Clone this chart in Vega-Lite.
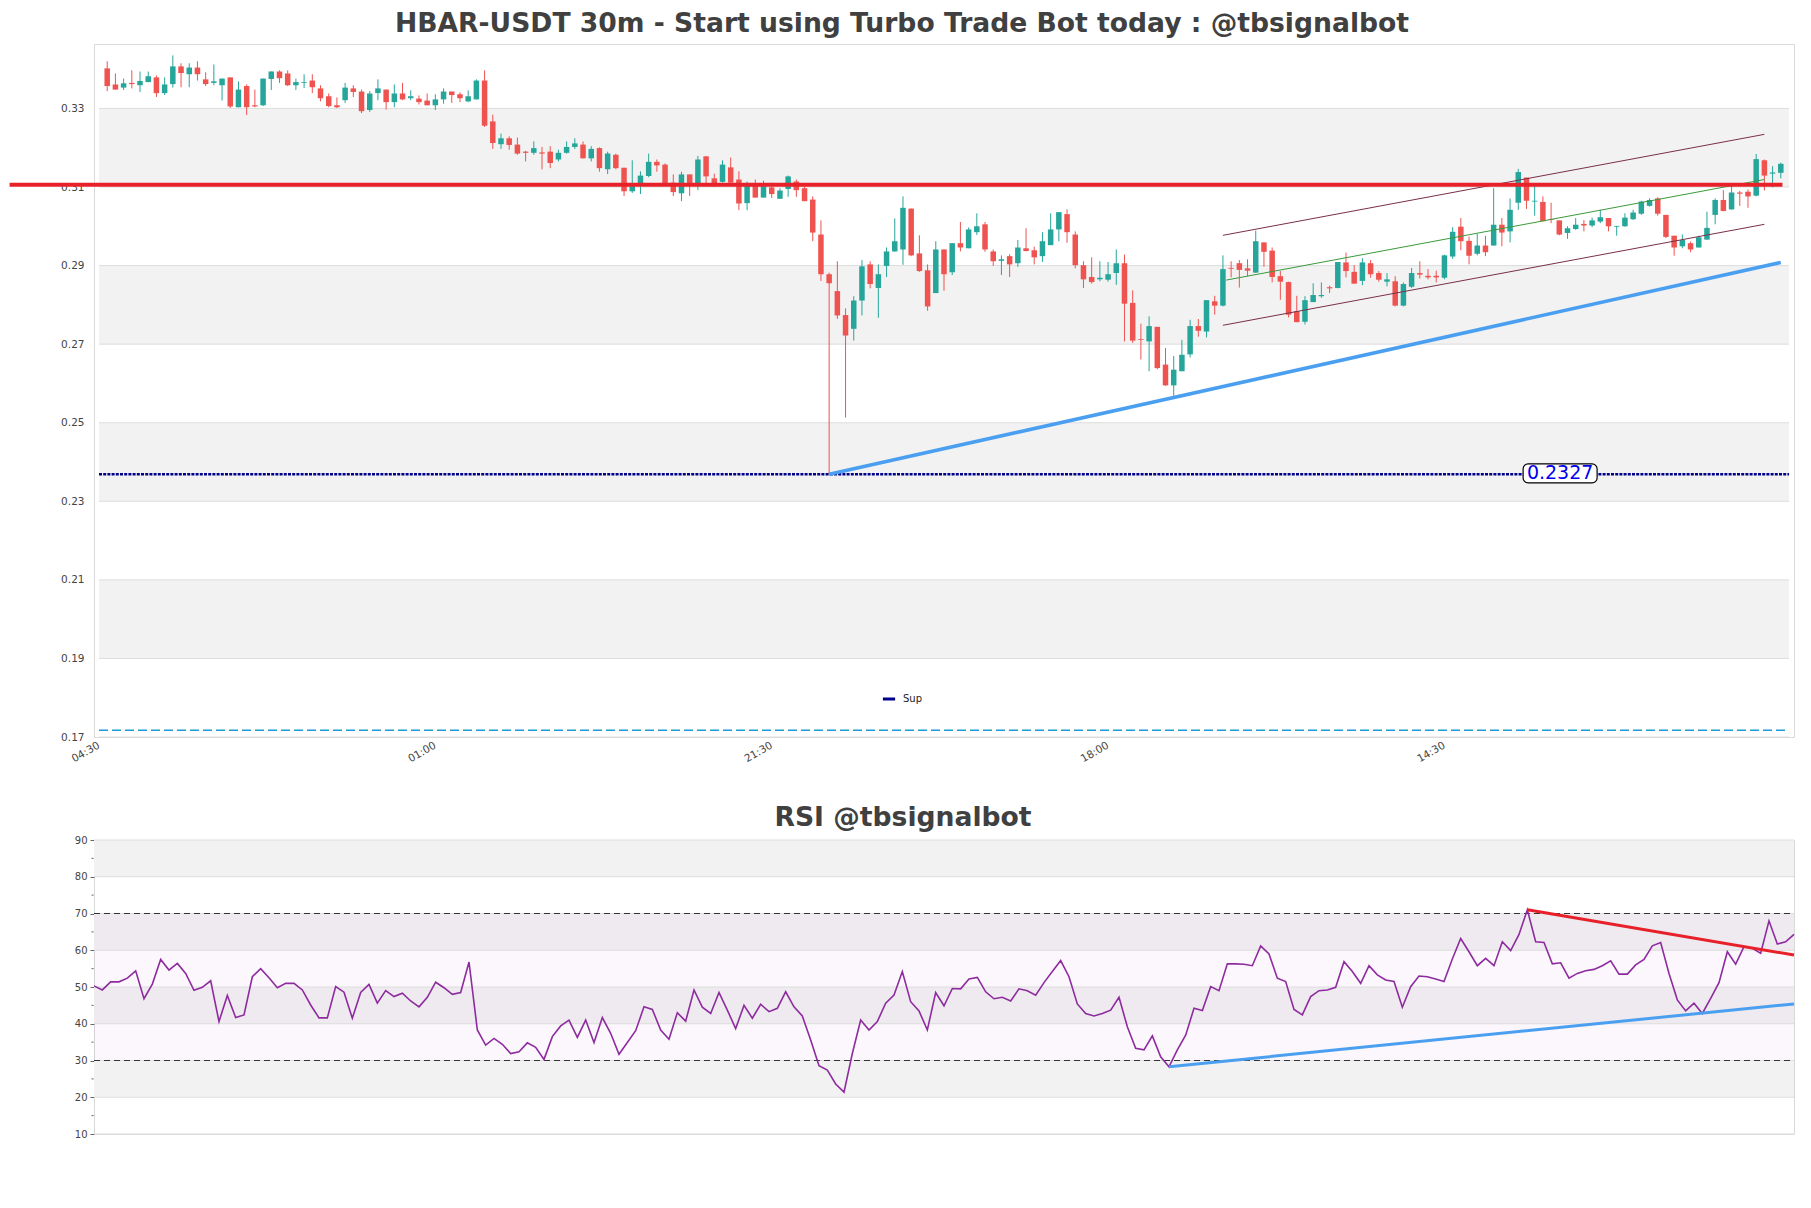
{
"$schema": "https://vega.github.io/schema/vega-lite/v6.json",
"padding": {"left": 7, "top": 10, "right": 14, "bottom": 10},
"background": "white",
"bounds": "flush",
"spacing": 103,
"config": {"font": "DejaVu Sans", "view": {"stroke": "#d9d9d9", "strokeWidth": 1}},
"resolve": {"scale": {"x": "independent", "y": "independent", "stroke": "independent"}},
"datasets": {
"pbands": [{"y0":0.31,"y1":0.33},{"y0":0.27,"y1":0.29},{"y0":0.23,"y1":0.25},{"y0":0.19,"y1":0.21}],
"pgrid": [{"v":0.17},{"v":0.19},{"v":0.21},{"v":0.23},{"v":0.25},{"v":0.27},{"v":0.29},{"v":0.31},{"v":0.33}],
"psegs": [
{"k":"up","i1":136,"v1":0.2977,"i2":202,"v2":0.3234},
{"k":"lo","i1":136,"v1":0.2748,"i2":202,"v2":0.3005},
{"k":"mid","i1":136.4,"v1":0.2863,"i2":202,"v2":0.3119},
{"k":"res","i1":-11.9,"v1":0.3106,"i2":204.2,"v2":0.3106},
{"k":"trend","i1":88,"v1":0.2369,"i2":204,"v2":0.2908},
{"k":"dash","i1":-1,"v1":0.1717,"i2":205,"v2":0.1717}
],
"sup": [{"name":"Sup","i1":-1,"v1":0.2369,"i2":205,"v2":0.2369}],
"ann": [{"t":"0.2327","i":177.1,"v":0.2371}],
"rbands": [{"y0":80,"y1":90},{"y0":60,"y1":70},{"y0":40,"y1":50},{"y0":20,"y1":30}],
"rhatch": [{"y0":30,"y1":70}],
"rgrid": [{"v":10},{"v":20},{"v":30},{"v":40},{"v":50},{"v":60},{"v":70},{"v":80},{"v":90}],
"rminor": [{"v":15},{"v":25},{"v":35},{"v":45},{"v":55},{"v":65},{"v":75},{"v":85}],
"rlev": [{"v":30},{"v":70}],
"rsegs": [{"k":"up","i1":129,"v1":28.3,"i2":204,"v2":45.4},{"k":"dn","i1":172,"v1":71.0,"i2":204,"v2":58.7}],
"candles": [
{"i":0,"o":0.3402,"h":0.3420,"l":0.3344,"c":0.3357,"r":50.3},
{"i":1,"o":0.3361,"h":0.3389,"l":0.3348,"c":0.3348,"r":49.2},
{"i":2,"o":0.3353,"h":0.3376,"l":0.3347,"c":0.3364,"r":51.4},
{"i":3,"o":0.3365,"h":0.3397,"l":0.3351,"c":0.3362,"r":51.4},
{"i":4,"o":0.3359,"h":0.3394,"l":0.3342,"c":0.3370,"r":52.4},
{"i":5,"o":0.3367,"h":0.3394,"l":0.3367,"c":0.3382,"r":54.4},
{"i":6,"o":0.3379,"h":0.3384,"l":0.3329,"c":0.3339,"r":46.8},
{"i":7,"o":0.3339,"h":0.3379,"l":0.3334,"c":0.3361,"r":50.8},
{"i":8,"o":0.3362,"h":0.3435,"l":0.3353,"c":0.3407,"r":57.5},
{"i":9,"o":0.3407,"h":0.3415,"l":0.3354,"c":0.3390,"r":54.6},
{"i":10,"o":0.3387,"h":0.3415,"l":0.3354,"c":0.3404,"r":56.4},
{"i":11,"o":0.3404,"h":0.3420,"l":0.3371,"c":0.3387,"r":53.7},
{"i":12,"o":0.3374,"h":0.3392,"l":0.3357,"c":0.3362,"r":49.1},
{"i":13,"o":0.3365,"h":0.3412,"l":0.3359,"c":0.3369,"r":49.9},
{"i":14,"o":0.3359,"h":0.3376,"l":0.3320,"c":0.3376,"r":51.7},
{"i":15,"o":0.3379,"h":0.3379,"l":0.3301,"c":0.3305,"r":40.6},
{"i":16,"o":0.3303,"h":0.3369,"l":0.3303,"c":0.3348,"r":47.7},
{"i":17,"o":0.3357,"h":0.3361,"l":0.3283,"c":0.3303,"r":41.7},
{"i":18,"o":0.3308,"h":0.3348,"l":0.3303,"c":0.3305,"r":42.4},
{"i":19,"o":0.3308,"h":0.3376,"l":0.3306,"c":0.3376,"r":52.8},
{"i":20,"o":0.3375,"h":0.3394,"l":0.3347,"c":0.3394,"r":55.0},
{"i":21,"o":0.3394,"h":0.3397,"l":0.3365,"c":0.3377,"r":52.5},
{"i":22,"o":0.3389,"h":0.3397,"l":0.3357,"c":0.3359,"r":49.8},
{"i":23,"o":0.3359,"h":0.3376,"l":0.3347,"c":0.3367,"r":51.0},
{"i":24,"o":0.3365,"h":0.3387,"l":0.3352,"c":0.3367,"r":51.0},
{"i":25,"o":0.3371,"h":0.3387,"l":0.3339,"c":0.3354,"r":49.2},
{"i":26,"o":0.3351,"h":0.3359,"l":0.3318,"c":0.3326,"r":45.1},
{"i":27,"o":0.3331,"h":0.3338,"l":0.3303,"c":0.3306,"r":41.6},
{"i":28,"o":0.3308,"h":0.3328,"l":0.3301,"c":0.3303,"r":41.6},
{"i":29,"o":0.3321,"h":0.3365,"l":0.3314,"c":0.3353,"r":50.1},
{"i":30,"o":0.3351,"h":0.3359,"l":0.3329,"c":0.3342,"r":48.6},
{"i":31,"o":0.3343,"h":0.3348,"l":0.3288,"c":0.3293,"r":41.5},
{"i":32,"o":0.3296,"h":0.3344,"l":0.3291,"c":0.3338,"r":48.5},
{"i":33,"o":0.3339,"h":0.3374,"l":0.3321,"c":0.3351,"r":50.7},
{"i":34,"o":0.3348,"h":0.3348,"l":0.3297,"c":0.3316,"r":45.6},
{"i":35,"o":0.3316,"h":0.3361,"l":0.3303,"c":0.3338,"r":49.0},
{"i":36,"o":0.3338,"h":0.3365,"l":0.3321,"c":0.3323,"r":47.4},
{"i":37,"o":0.3326,"h":0.3346,"l":0.3321,"c":0.3331,"r":48.3},
{"i":38,"o":0.3325,"h":0.3333,"l":0.3310,"c":0.3316,"r":46.2},
{"i":39,"o":0.3320,"h":0.3338,"l":0.3308,"c":0.3308,"r":44.6},
{"i":40,"o":0.3308,"h":0.3336,"l":0.3296,"c":0.3323,"r":47.2},
{"i":41,"o":0.3323,"h":0.3351,"l":0.3312,"c":0.3343,"r":51.3},
{"i":42,"o":0.3343,"h":0.3343,"l":0.3314,"c":0.3334,"r":49.8},
{"i":43,"o":0.3336,"h":0.3341,"l":0.3316,"c":0.3326,"r":48.0},
{"i":44,"o":0.3318,"h":0.3346,"l":0.3316,"c":0.3331,"r":48.5},
{"i":45,"o":0.3323,"h":0.3374,"l":0.3323,"c":0.3371,"r":56.8},
{"i":46,"o":0.3371,"h":0.3397,"l":0.3253,"c":0.3256,"r":38.3},
{"i":47,"o":0.3267,"h":0.3284,"l":0.3197,"c":0.3212,"r":34.2},
{"i":48,"o":0.3209,"h":0.3236,"l":0.3197,"c":0.3224,"r":36.0},
{"i":49,"o":0.3224,"h":0.3229,"l":0.3195,"c":0.3207,"r":34.4},
{"i":50,"o":0.3208,"h":0.3226,"l":0.3182,"c":0.3185,"r":31.9},
{"i":51,"o":0.3190,"h":0.3192,"l":0.3165,"c":0.3187,"r":32.4},
{"i":52,"o":0.3187,"h":0.3216,"l":0.3182,"c":0.3199,"r":34.8},
{"i":53,"o":0.3188,"h":0.3202,"l":0.3145,"c":0.3185,"r":33.6},
{"i":54,"o":0.3190,"h":0.3204,"l":0.3148,"c":0.3161,"r":30.3},
{"i":55,"o":0.3170,"h":0.3195,"l":0.3165,"c":0.3187,"r":36.5},
{"i":56,"o":0.3187,"h":0.3216,"l":0.3185,"c":0.3202,"r":39.4},
{"i":57,"o":0.3202,"h":0.3224,"l":0.3197,"c":0.3211,"r":41.0},
{"i":58,"o":0.3208,"h":0.3216,"l":0.3173,"c":0.3173,"r":36.3},
{"i":59,"o":0.3173,"h":0.3204,"l":0.3165,"c":0.3197,"r":41.0},
{"i":60,"o":0.3199,"h":0.3201,"l":0.3139,"c":0.3148,"r":34.9},
{"i":61,"o":0.3145,"h":0.3190,"l":0.3133,"c":0.3185,"r":41.7},
{"i":62,"o":0.3182,"h":0.3185,"l":0.3145,"c":0.3148,"r":37.4},
{"i":63,"o":0.3149,"h":0.3149,"l":0.3077,"c":0.3089,"r":31.7},
{"i":64,"o":0.3089,"h":0.3168,"l":0.3085,"c":0.3109,"r":34.9},
{"i":65,"o":0.3104,"h":0.3140,"l":0.3082,"c":0.3129,"r":38.1},
{"i":66,"o":0.3128,"h":0.3185,"l":0.3125,"c":0.3164,"r":44.6},
{"i":67,"o":0.3164,"h":0.3170,"l":0.3139,"c":0.3155,"r":43.9},
{"i":68,"o":0.3157,"h":0.3160,"l":0.3108,"c":0.3108,"r":38.3},
{"i":69,"o":0.3111,"h":0.3132,"l":0.3077,"c":0.3087,"r":35.8},
{"i":70,"o":0.3084,"h":0.3139,"l":0.3064,"c":0.3132,"r":43.0},
{"i":71,"o":0.3132,"h":0.3132,"l":0.3077,"c":0.3109,"r":40.7},
{"i":72,"o":0.3109,"h":0.3179,"l":0.3092,"c":0.3170,"r":49.2},
{"i":73,"o":0.3178,"h":0.3179,"l":0.3102,"c":0.3127,"r":44.5},
{"i":74,"o":0.3122,"h":0.3134,"l":0.3100,"c":0.3109,"r":42.8},
{"i":75,"o":0.3113,"h":0.3168,"l":0.3111,"c":0.3157,"r":48.5},
{"i":76,"o":0.3150,"h":0.3175,"l":0.3111,"c":0.3111,"r":43.7},
{"i":77,"o":0.3119,"h":0.3140,"l":0.3041,"c":0.3058,"r":38.7},
{"i":78,"o":0.3059,"h":0.3114,"l":0.3041,"c":0.3109,"r":45.0},
{"i":79,"o":0.3109,"h":0.3119,"l":0.3073,"c":0.3073,"r":41.5},
{"i":80,"o":0.3073,"h":0.3116,"l":0.3073,"c":0.3102,"r":45.3},
{"i":81,"o":0.3099,"h":0.3111,"l":0.3072,"c":0.3082,"r":43.3},
{"i":82,"o":0.3070,"h":0.3097,"l":0.3070,"c":0.3091,"r":44.2},
{"i":83,"o":0.3095,"h":0.3129,"l":0.3075,"c":0.3127,"r":48.7},
{"i":84,"o":0.3114,"h":0.3119,"l":0.3075,"c":0.3092,"r":44.6},
{"i":85,"o":0.3097,"h":0.3103,"l":0.3064,"c":0.3064,"r":42.1},
{"i":86,"o":0.3068,"h":0.3076,"l":0.2962,"c":0.2984,"r":35.6},
{"i":87,"o":0.2979,"h":0.3015,"l":0.2861,"c":0.2878,"r":28.6},
{"i":88,"o":0.2878,"h":0.2882,"l":0.2369,"c":0.2855,"r":27.4},
{"i":89,"o":0.2835,"h":0.2911,"l":0.2764,"c":0.2773,"r":23.6},
{"i":90,"o":0.2774,"h":0.2791,"l":0.2513,"c":0.2722,"r":21.4},
{"i":91,"o":0.2739,"h":0.2822,"l":0.2709,"c":0.2811,"r":31.9},
{"i":92,"o":0.2811,"h":0.2914,"l":0.2773,"c":0.2898,"r":41.0},
{"i":93,"o":0.2903,"h":0.2911,"l":0.2842,"c":0.2853,"r":38.3},
{"i":94,"o":0.2843,"h":0.2903,"l":0.2767,"c":0.2878,"r":40.6},
{"i":95,"o":0.2899,"h":0.2946,"l":0.2871,"c":0.2936,"r":45.6},
{"i":96,"o":0.2936,"h":0.3020,"l":0.2935,"c":0.2962,"r":47.8},
{"i":97,"o":0.2941,"h":0.3076,"l":0.2902,"c":0.3047,"r":54.2},
{"i":98,"o":0.3045,"h":0.3045,"l":0.2924,"c":0.2926,"r":46.0},
{"i":99,"o":0.2931,"h":0.2977,"l":0.2884,"c":0.2886,"r":43.5},
{"i":100,"o":0.2888,"h":0.2903,"l":0.2785,"c":0.2796,"r":38.3},
{"i":101,"o":0.2830,"h":0.2962,"l":0.2830,"c":0.2941,"r":48.5},
{"i":102,"o":0.2941,"h":0.2941,"l":0.2836,"c":0.2878,"r":44.9},
{"i":103,"o":0.2883,"h":0.2957,"l":0.2876,"c":0.2957,"r":49.6},
{"i":104,"o":0.2957,"h":0.3011,"l":0.2936,"c":0.2946,"r":49.5},
{"i":105,"o":0.2944,"h":0.2997,"l":0.2944,"c":0.2992,"r":52.2},
{"i":106,"o":0.2985,"h":0.3033,"l":0.2978,"c":0.3000,"r":52.6},
{"i":107,"o":0.3005,"h":0.3011,"l":0.2935,"c":0.2941,"r":48.7},
{"i":108,"o":0.2936,"h":0.2941,"l":0.2899,"c":0.2911,"r":46.8},
{"i":109,"o":0.2912,"h":0.2926,"l":0.2876,"c":0.2916,"r":47.2},
{"i":110,"o":0.2924,"h":0.2929,"l":0.2871,"c":0.2903,"r":46.2},
{"i":111,"o":0.2906,"h":0.2965,"l":0.2897,"c":0.2946,"r":49.5},
{"i":112,"o":0.2944,"h":0.2995,"l":0.2936,"c":0.2937,"r":49.0},
{"i":113,"o":0.2939,"h":0.2948,"l":0.2903,"c":0.2921,"r":47.8},
{"i":114,"o":0.2924,"h":0.2985,"l":0.2909,"c":0.2962,"r":51.2},
{"i":115,"o":0.2952,"h":0.3033,"l":0.2952,"c":0.2992,"r":54.2},
{"i":116,"o":0.2992,"h":0.3036,"l":0.2962,"c":0.3036,"r":57.2},
{"i":117,"o":0.3031,"h":0.3043,"l":0.2958,"c":0.2985,"r":52.8},
{"i":118,"o":0.2979,"h":0.2987,"l":0.2893,"c":0.2901,"r":45.4},
{"i":119,"o":0.2901,"h":0.2911,"l":0.2843,"c":0.2865,"r":42.8},
{"i":120,"o":0.2871,"h":0.2921,"l":0.2854,"c":0.2858,"r":42.1},
{"i":121,"o":0.2865,"h":0.2911,"l":0.2860,"c":0.2869,"r":42.8},
{"i":122,"o":0.2864,"h":0.2909,"l":0.2859,"c":0.2878,"r":43.7},
{"i":123,"o":0.2881,"h":0.2941,"l":0.2851,"c":0.2906,"r":47.2},
{"i":124,"o":0.2906,"h":0.2928,"l":0.2707,"c":0.2803,"r":39.2},
{"i":125,"o":0.2805,"h":0.2837,"l":0.2703,"c":0.2709,"r":33.3},
{"i":126,"o":0.2713,"h":0.2752,"l":0.2661,"c":0.2711,"r":32.9},
{"i":127,"o":0.2707,"h":0.2771,"l":0.2631,"c":0.2746,"r":36.7},
{"i":128,"o":0.2744,"h":0.2744,"l":0.2636,"c":0.2639,"r":31.0},
{"i":129,"o":0.2648,"h":0.2690,"l":0.2594,"c":0.2595,"r":28.3},
{"i":130,"o":0.2595,"h":0.2670,"l":0.2568,"c":0.2635,"r":32.9},
{"i":131,"o":0.2631,"h":0.2711,"l":0.2631,"c":0.2673,"r":36.9},
{"i":132,"o":0.2674,"h":0.2762,"l":0.2666,"c":0.2746,"r":44.2},
{"i":133,"o":0.2746,"h":0.2764,"l":0.2719,"c":0.2734,"r":43.6},
{"i":134,"o":0.2732,"h":0.2812,"l":0.2717,"c":0.2812,"r":50.1},
{"i":135,"o":0.2809,"h":0.2823,"l":0.2775,"c":0.2798,"r":49.0},
{"i":136,"o":0.2798,"h":0.2926,"l":0.2796,"c":0.2891,"r":56.3},
{"i":137,"o":0.2894,"h":0.2911,"l":0.2870,"c":0.2892,"r":56.3},
{"i":138,"o":0.2906,"h":0.2914,"l":0.2844,"c":0.2889,"r":56.2},
{"i":139,"o":0.2893,"h":0.2916,"l":0.2873,"c":0.2887,"r":55.8},
{"i":140,"o":0.2882,"h":0.2989,"l":0.2881,"c":0.2962,"r":61.2},
{"i":141,"o":0.2959,"h":0.2959,"l":0.2897,"c":0.2935,"r":59.0},
{"i":142,"o":0.2938,"h":0.2946,"l":0.2857,"c":0.2871,"r":52.4},
{"i":143,"o":0.2873,"h":0.2886,"l":0.2813,"c":0.2859,"r":51.5},
{"i":144,"o":0.2858,"h":0.2859,"l":0.2768,"c":0.2775,"r":43.9},
{"i":145,"o":0.2784,"h":0.2823,"l":0.2756,"c":0.2756,"r":42.4},
{"i":146,"o":0.2757,"h":0.2822,"l":0.2750,"c":0.2812,"r":47.4},
{"i":147,"o":0.2807,"h":0.2855,"l":0.2807,"c":0.2825,"r":49.0},
{"i":148,"o":0.2822,"h":0.2857,"l":0.2818,"c":0.2825,"r":49.2},
{"i":149,"o":0.2845,"h":0.2849,"l":0.2830,"c":0.2842,"r":49.9},
{"i":150,"o":0.2843,"h":0.2909,"l":0.2842,"c":0.2909,"r":56.9},
{"i":151,"o":0.2908,"h":0.2933,"l":0.2870,"c":0.2886,"r":54.2},
{"i":152,"o":0.2884,"h":0.2901,"l":0.2854,"c":0.2854,"r":51.0},
{"i":153,"o":0.2861,"h":0.2919,"l":0.2850,"c":0.2908,"r":55.8},
{"i":154,"o":0.2906,"h":0.2914,"l":0.2869,"c":0.2878,"r":53.3},
{"i":155,"o":0.2881,"h":0.2886,"l":0.2859,"c":0.2864,"r":51.9},
{"i":156,"o":0.2859,"h":0.2881,"l":0.2847,"c":0.2865,"r":51.5},
{"i":157,"o":0.2860,"h":0.2873,"l":0.2796,"c":0.2798,"r":44.5},
{"i":158,"o":0.2798,"h":0.2857,"l":0.2796,"c":0.2853,"r":50.1},
{"i":159,"o":0.2846,"h":0.2894,"l":0.2843,"c":0.2881,"r":53.0},
{"i":160,"o":0.2881,"h":0.2911,"l":0.2867,"c":0.2877,"r":52.8},
{"i":161,"o":0.2874,"h":0.2891,"l":0.2865,"c":0.2870,"r":52.2},
{"i":162,"o":0.2874,"h":0.2887,"l":0.2857,"c":0.2870,"r":51.5},
{"i":163,"o":0.2869,"h":0.2928,"l":0.2865,"c":0.2926,"r":57.6},
{"i":164,"o":0.2923,"h":0.2998,"l":0.2917,"c":0.2986,"r":63.2},
{"i":165,"o":0.2999,"h":0.3021,"l":0.2939,"c":0.2962,"r":59.6},
{"i":166,"o":0.2963,"h":0.2974,"l":0.2903,"c":0.2925,"r":55.8},
{"i":167,"o":0.2930,"h":0.2981,"l":0.2926,"c":0.2951,"r":57.8},
{"i":168,"o":0.2951,"h":0.2976,"l":0.2924,"c":0.2934,"r":55.8},
{"i":169,"o":0.2951,"h":0.3097,"l":0.2951,"c":0.3004,"r":62.3},
{"i":170,"o":0.3004,"h":0.3021,"l":0.2949,"c":0.2984,"r":59.9},
{"i":171,"o":0.2987,"h":0.3071,"l":0.2959,"c":0.3042,"r":64.3},
{"i":172,"o":0.3060,"h":0.3146,"l":0.3042,"c":0.3138,"r":71.0},
{"i":173,"o":0.3124,"h":0.3124,"l":0.3044,"c":0.3065,"r":62.3},
{"i":174,"o":0.3063,"h":0.3109,"l":0.3027,"c":0.3065,"r":62.1},
{"i":175,"o":0.3062,"h":0.3076,"l":0.3013,"c":0.3013,"r":56.3},
{"i":176,"o":0.3018,"h":0.3060,"l":0.3008,"c":0.3016,"r":56.6},
{"i":177,"o":0.3015,"h":0.3015,"l":0.2977,"c":0.2979,"r":52.4},
{"i":178,"o":0.2983,"h":0.3000,"l":0.2968,"c":0.2995,"r":53.7},
{"i":179,"o":0.2993,"h":0.3021,"l":0.2991,"c":0.3004,"r":54.4},
{"i":180,"o":0.3006,"h":0.3016,"l":0.2987,"c":0.3002,"r":54.8},
{"i":181,"o":0.3002,"h":0.3022,"l":0.2998,"c":0.3015,"r":55.8},
{"i":182,"o":0.3012,"h":0.3042,"l":0.3008,"c":0.3023,"r":57.1},
{"i":183,"o":0.3021,"h":0.3021,"l":0.2987,"c":0.3000,"r":53.5},
{"i":184,"o":0.2999,"h":0.3001,"l":0.2976,"c":0.3001,"r":53.5},
{"i":185,"o":0.3000,"h":0.3033,"l":0.2999,"c":0.3022,"r":56.0},
{"i":186,"o":0.3018,"h":0.3042,"l":0.3016,"c":0.3035,"r":57.5},
{"i":187,"o":0.3032,"h":0.3065,"l":0.3029,"c":0.3063,"r":61.2},
{"i":188,"o":0.3052,"h":0.3071,"l":0.3050,"c":0.3067,"r":62.1},
{"i":189,"o":0.3071,"h":0.3074,"l":0.3027,"c":0.3032,"r":53.7},
{"i":190,"o":0.3029,"h":0.3029,"l":0.2970,"c":0.2973,"r":46.5},
{"i":191,"o":0.2976,"h":0.2976,"l":0.2925,"c":0.2946,"r":43.5},
{"i":192,"o":0.2949,"h":0.2979,"l":0.2944,"c":0.2965,"r":45.6},
{"i":193,"o":0.2957,"h":0.2961,"l":0.2934,"c":0.2941,"r":42.8},
{"i":194,"o":0.2946,"h":0.2976,"l":0.2946,"c":0.2972,"r":46.9},
{"i":195,"o":0.2966,"h":0.3037,"l":0.2966,"c":0.2996,"r":51.2},
{"i":196,"o":0.3029,"h":0.3071,"l":0.3005,"c":0.3067,"r":59.6},
{"i":197,"o":0.3067,"h":0.3092,"l":0.3038,"c":0.3039,"r":56.2},
{"i":198,"o":0.3043,"h":0.3108,"l":0.3042,"c":0.3086,"r":61.0},
{"i":199,"o":0.3086,"h":0.3090,"l":0.3052,"c":0.3083,"r":60.5},
{"i":200,"o":0.3088,"h":0.3094,"l":0.3047,"c":0.3076,"r":59.2},
{"i":201,"o":0.3078,"h":0.3184,"l":0.3076,"c":0.3171,"r":68.0},
{"i":202,"o":0.3168,"h":0.3170,"l":0.3091,"c":0.3129,"r":61.7},
{"i":203,"o":0.3134,"h":0.3153,"l":0.3099,"c":0.3137,"r":62.3},
{"i":204,"o":0.3136,"h":0.3162,"l":0.3122,"c":0.3159,"r":64.3}
]
},
"vconcat": [
{
"width": 1700, "height": 693,
"title": {"text": "HBAR-USDT 30m - Start using Turbo Trade Bot today : @tbsignalbot", "fontSize": 26.6, "fontWeight": "bold", "color": "#404040", "anchor": "middle", "dx": -42, "offset": -15, "baseline": "alphabetic", "font": "DejaVu Sans"},
"layer": [
{"data": {"name": "pbands"}, "mark": {"type": "rect", "color": "#f2f2f2"},
 "encoding": {
  "x": {"datum": -1, "type": "quantitative", "scale": {"domain": [-1, 205], "nice": false, "zero": false},
        "axis": {"values": [-1, 40, 81, 122, 163], "tickCount": 20, "labelExpr": "datum.value == -1 ? '04:30' : datum.value == 40 ? '01:00' : datum.value == 81 ? '21:30' : datum.value == 122 ? '18:00' : '14:30'", "labelAngle": -30, "labelAlign": "right", "labelBaseline": "top", "labelOffset": -3, "ticks": false, "domain": false, "grid": false, "labelPadding": 3, "labelFontSize": 10.5, "labelColor": "#444444", "title": null}},
  "x2": {"datum": 205},
  "y": {"field": "y0", "type": "quantitative", "scale": {"domain": [0.17, 0.3464], "nice": false, "zero": false},
        "axis": {"values": [0.17, 0.19, 0.21, 0.23, 0.25, 0.27, 0.29, 0.31, 0.33], "tickCount": 20, "format": ".2f", "ticks": false, "domain": false, "grid": false, "labelPadding": 10, "labelFontSize": 10.5, "labelColor": "#444444", "title": null}},
  "y2": {"field": "y1"}}},
{"data": {"name": "pgrid"}, "mark": {"type": "rule", "color": "#dddddd", "strokeWidth": 1},
 "encoding": {"x": {"datum": -1, "type": "quantitative", "scale": {"domain": [-1, 205], "nice": false, "zero": false}}, "x2": {"datum": 205},
  "y": {"field": "v", "type": "quantitative", "scale": {"domain": [0.17, 0.3464], "nice": false, "zero": false}}}},
{"data": {"name": "candles"}, "mark": {"type": "rule", "strokeWidth": 1},
 "encoding": {"x": {"field": "i", "type": "quantitative", "scale": {"domain": [-1, 205], "nice": false, "zero": false}},
  "y": {"field": "l", "type": "quantitative", "scale": {"domain": [0.17, 0.3464], "nice": false, "zero": false}}, "y2": {"field": "h"},
  "color": {"condition": {"test": "datum.c >= datum.o", "value": "#26a69a"}, "value": "#ef5350"}}},
{"data": {"name": "candles"}, "mark": {"type": "bar", "width": 5.5},
 "encoding": {"x": {"field": "i", "type": "quantitative", "scale": {"domain": [-1, 205], "nice": false, "zero": false}},
  "y": {"field": "o", "type": "quantitative", "scale": {"domain": [0.17, 0.3464], "nice": false, "zero": false}}, "y2": {"field": "c"},
  "color": {"condition": {"test": "datum.c >= datum.o", "value": "#26a69a"}, "value": "#ef5350"}}},
{"data": {"name": "psegs"}, "transform": [{"filter": "datum.k == 'up' || datum.k == 'lo'"}], "mark": {"type": "rule", "color": "#7a2f48", "strokeWidth": 1},
 "encoding": {"x": {"field": "i1", "type": "quantitative", "scale": {"domain": [-1, 205], "nice": false, "zero": false}}, "x2": {"field": "i2"},
  "y": {"field": "v1", "type": "quantitative", "scale": {"domain": [0.17, 0.3464], "nice": false, "zero": false}}, "y2": {"field": "v2"}}},
{"data": {"name": "psegs"}, "transform": [{"filter": "datum.k == 'mid'"}], "mark": {"type": "rule", "color": "#3a9a3a", "strokeWidth": 1},
 "encoding": {"x": {"field": "i1", "type": "quantitative", "scale": {"domain": [-1, 205], "nice": false, "zero": false}}, "x2": {"field": "i2"},
  "y": {"field": "v1", "type": "quantitative", "scale": {"domain": [0.17, 0.3464], "nice": false, "zero": false}}, "y2": {"field": "v2"}}},
{"data": {"name": "psegs"}, "transform": [{"filter": "datum.k == 'res'"}], "mark": {"type": "rule", "color": "#e8202a", "strokeWidth": 4, "clip": false},
 "encoding": {"x": {"field": "i1", "type": "quantitative", "scale": {"domain": [-1, 205], "nice": false, "zero": false}}, "x2": {"field": "i2"},
  "y": {"field": "v1", "type": "quantitative", "scale": {"domain": [0.17, 0.3464], "nice": false, "zero": false}}, "y2": {"field": "v2"}}},
{"data": {"name": "sup"}, "mark": {"type": "rule", "strokeWidth": 2.5, "strokeDash": [3, 1.2]},
 "encoding": {"x": {"field": "i1", "type": "quantitative", "scale": {"domain": [-1, 205], "nice": false, "zero": false}}, "x2": {"field": "i2"},
  "y": {"field": "v1", "type": "quantitative", "scale": {"domain": [0.17, 0.3464], "nice": false, "zero": false}}, "y2": {"field": "v2"},
  "stroke": {"field": "name", "type": "nominal", "scale": {"domain": ["Sup"], "range": ["#00008b"]},
   "legend": {"orient": "none", "legendX": 787, "legendY": 647, "title": null, "symbolType": "stroke", "symbolStrokeWidth": 3, "symbolSize": 150, "symbolDash": [20, 0], "labelFontSize": 10, "labelColor": "#222222", "padding": 0, "labelOffset": 6}}}},
{"data": {"name": "psegs"}, "transform": [{"filter": "datum.k == 'trend'"}], "mark": {"type": "rule", "color": "#4b9ff0", "strokeWidth": 3.5},
 "encoding": {"x": {"field": "i1", "type": "quantitative", "scale": {"domain": [-1, 205], "nice": false, "zero": false}}, "x2": {"field": "i2"},
  "y": {"field": "v1", "type": "quantitative", "scale": {"domain": [0.17, 0.3464], "nice": false, "zero": false}}, "y2": {"field": "v2"}}},
{"data": {"name": "psegs"}, "transform": [{"filter": "datum.k == 'dash'"}], "mark": {"type": "rule", "color": "#1f9ad8", "strokeWidth": 1.5, "strokeDash": [9, 4]},
 "encoding": {"x": {"field": "i1", "type": "quantitative", "scale": {"domain": [-1, 205], "nice": false, "zero": false}}, "x2": {"field": "i2"},
  "y": {"field": "v1", "type": "quantitative", "scale": {"domain": [0.17, 0.3464], "nice": false, "zero": false}}, "y2": {"field": "v2"}}},
{"data": {"name": "ann"}, "mark": {"type": "rect", "width": 74, "height": 19, "cornerRadius": 5, "fill": "white", "stroke": "black", "strokeWidth": 1.2},
 "encoding": {"x": {"field": "i", "type": "quantitative", "scale": {"domain": [-1, 205], "nice": false, "zero": false}},
  "y": {"field": "v", "type": "quantitative", "scale": {"domain": [0.17, 0.3464], "nice": false, "zero": false}}}},
{"data": {"name": "ann"}, "mark": {"type": "text", "fontSize": 19, "color": "#0000ee", "align": "center", "baseline": "middle"},
 "encoding": {"x": {"field": "i", "type": "quantitative", "scale": {"domain": [-1, 205], "nice": false, "zero": false}},
  "y": {"field": "v", "type": "quantitative", "scale": {"domain": [0.17, 0.3464], "nice": false, "zero": false}}, "text": {"field": "t"}}}
]
},
{
"width": 1700, "height": 294,
"title": {"text": "RSI @tbsignalbot", "fontSize": 26.6, "fontWeight": "bold", "color": "#404040", "anchor": "middle", "dx": -41, "offset": -18, "baseline": "alphabetic", "font": "DejaVu Sans"},
"layer": [
{"data": {"name": "rbands"}, "mark": {"type": "rect", "color": "#f2f2f2"},
 "encoding": {
  "x": {"datum": 0, "type": "quantitative", "scale": {"domain": [0, 204], "nice": false, "zero": false}, "axis": null},
  "x2": {"datum": 204},
  "y": {"field": "y0", "type": "quantitative", "scale": {"domain": [10, 90], "nice": false, "zero": false},
        "axis": {"values": [10, 20, 30, 40, 50, 60, 70, 80, 90], "tickCount": 20, "labelOverlap": false, "tickSize": 4, "tickColor": "#666666", "domain": false, "grid": false, "labelFontSize": 10, "labelColor": "#444444", "labelPadding": 3, "title": null}},
  "y2": {"field": "y1"}}},
{"data": {"name": "rhatch"}, "mark": {"type": "rect", "color": "#a860c0", "opacity": 0.05},
 "encoding": {"x": {"datum": 0, "type": "quantitative", "scale": {"domain": [0, 204], "nice": false, "zero": false}}, "x2": {"datum": 204},
  "y": {"field": "y0", "type": "quantitative", "scale": {"domain": [10, 90], "nice": false, "zero": false}}, "y2": {"field": "y1"}}},
{"data": {"name": "rgrid"}, "mark": {"type": "rule", "color": "#dddddd", "strokeWidth": 1},
 "encoding": {"x": {"datum": 0, "type": "quantitative", "scale": {"domain": [0, 204], "nice": false, "zero": false}}, "x2": {"datum": 204},
  "y": {"field": "v", "type": "quantitative", "scale": {"domain": [10, 90], "nice": false, "zero": false}}}},
{"data": {"name": "rminor"}, "mark": {"type": "rule", "color": "#666666", "strokeWidth": 1, "clip": false},
 "encoding": {"x": {"datum": -0.3, "type": "quantitative", "scale": {"domain": [0, 204], "nice": false, "zero": false}}, "x2": {"datum": -0.05},
  "y": {"field": "v", "type": "quantitative", "scale": {"domain": [10, 90], "nice": false, "zero": false}}}},
{"data": {"name": "rlev"}, "mark": {"type": "rule", "color": "#333333", "strokeWidth": 1.2, "strokeDash": [6, 4]},
 "encoding": {"x": {"datum": 0, "type": "quantitative", "scale": {"domain": [0, 204], "nice": false, "zero": false}}, "x2": {"datum": 204},
  "y": {"field": "v", "type": "quantitative", "scale": {"domain": [10, 90], "nice": false, "zero": false}}}},
{"data": {"name": "candles"}, "mark": {"type": "line", "color": "#8e2b9f", "strokeWidth": 1.6},
 "encoding": {"x": {"field": "i", "type": "quantitative", "scale": {"domain": [0, 204], "nice": false, "zero": false}},
  "y": {"field": "r", "type": "quantitative", "scale": {"domain": [10, 90], "nice": false, "zero": false}}}},
{"data": {"name": "rsegs"}, "transform": [{"filter": "datum.k == 'up'"}], "mark": {"type": "rule", "color": "#4b9ff0", "strokeWidth": 3},
 "encoding": {"x": {"field": "i1", "type": "quantitative", "scale": {"domain": [0, 204], "nice": false, "zero": false}}, "x2": {"field": "i2"},
  "y": {"field": "v1", "type": "quantitative", "scale": {"domain": [10, 90], "nice": false, "zero": false}}, "y2": {"field": "v2"}}},
{"data": {"name": "rsegs"}, "transform": [{"filter": "datum.k == 'dn'"}], "mark": {"type": "rule", "color": "#e8202a", "strokeWidth": 3},
 "encoding": {"x": {"field": "i1", "type": "quantitative", "scale": {"domain": [0, 204], "nice": false, "zero": false}}, "x2": {"field": "i2"},
  "y": {"field": "v1", "type": "quantitative", "scale": {"domain": [10, 90], "nice": false, "zero": false}}, "y2": {"field": "v2"}}}
]
}
]
}
